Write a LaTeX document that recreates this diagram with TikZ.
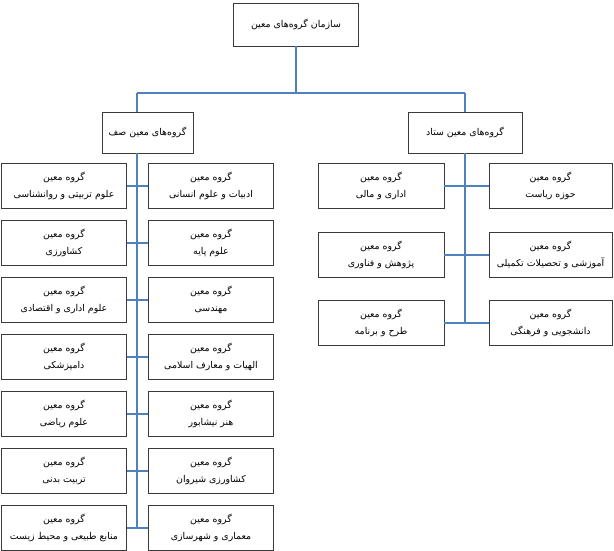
\documentclass[tikz,border=0pt]{standalone}
\usepackage{fontspec}
\newfontfamily\farsi[Script=Arabic]{DejaVu Sans}
\TeXXeTstate=1
\usetikzlibrary{positioning}
\definecolor{clink}{HTML}{4F81BD}
\definecolor{cbox}{HTML}{3A3A3A}
\newcommand{\fa}[1]{\beginR #1\endR}
\tikzset{
  every picture/.style={line width=0.8pt},
  unit/.style={draw=cbox, fill=white, align=center, inner sep=2pt,
    minimum width=#1, minimum height=45pt,
    font=\farsi\fontsize{9.4}{17}\selectfont},
  unit/.default=125pt,
  head/.style={unit=#1, minimum height=41pt},
  link/.style={draw=clink, line width=1.4pt},
}

\begin{document}
\begin{tikzpicture}[x=1pt, y=-1pt]
  \useasboundingbox (0,0) rectangle (614,551);
  % ---------------- top
  \node[unit, minimum height=43pt] (root) at (296,24.5) {\fa{سازمان گروه‌های معین}};
  \node[head=91pt] (saf) at (147.5,132.5) {\fa{گروه‌های معین صف}};
  \node[head=114pt] (setad) at (465,132.5) {\fa{گروه‌های معین ستاد}};
  \coordinate (barL) at (137,93);
  \coordinate (barR) at (465,93);
  % ---------------- saf: left column
  \node[unit] (safL1) at (64,186) {\fa{گروه معین}\\\fa{علوم تربیتی و روانشناسی}};
  \node[unit] (safL2) at (64,243) {\fa{گروه معین}\\\fa{کشاورزی}};
  \node[unit] (safL3) at (64,300) {\fa{گروه معین}\\\fa{علوم اداری و اقتصادی}};
  \node[unit] (safL4) at (64,357) {\fa{گروه معین}\\\fa{دامپزشکی}};
  \node[unit] (safL5) at (64,414) {\fa{گروه معین}\\\fa{علوم ریاضی}};
  \node[unit] (safL6) at (64,471) {\fa{گروه معین}\\\fa{تربیت بدنی}};
  \node[unit] (safL7) at (64,528) {\fa{گروه معین}\\\fa{منابع طبیعی و محیط زیست}};
  % ---------------- saf: right column
  \node[unit] (safR1) at (211,186) {\fa{گروه معین}\\\fa{ادبیات و علوم انسانی}};
  \node[unit] (safR2) at (211,243) {\fa{گروه معین}\\\fa{علوم پایه}};
  \node[unit] (safR3) at (211,300) {\fa{گروه معین}\\\fa{مهندسی}};
  \node[unit] (safR4) at (211,357) {\fa{گروه معین}\\\fa{الهیات و معارف اسلامی}};
  \node[unit] (safR5) at (211,414) {\fa{گروه معین}\\\fa{هنر نیشابور}};
  \node[unit] (safR6) at (211,471) {\fa{گروه معین}\\\fa{کشاورزی شیروان}};
  \node[unit] (safR7) at (211,528) {\fa{گروه معین}\\\fa{معماری و شهرسازی}};
  % ---------------- setad
  \node[unit=126pt] (setadL1) at (381,186) {\fa{گروه معین}\\\fa{اداری و مالی}};
  \node[unit=126pt] (setadL2) at (381,255) {\fa{گروه معین}\\\fa{پژوهش و فناوری}};
  \node[unit=126pt] (setadL3) at (381,323) {\fa{گروه معین}\\\fa{طرح و برنامه}};
  \node[unit=123pt] (setadR1) at (550.5,186) {\fa{گروه معین}\\\fa{حوزه ریاست}};
  \node[unit=123pt] (setadR2) at (550.5,255) {\fa{گروه معین}\\\fa{آموزشی و تحصیلات تکمیلی}};
  \node[unit=123pt] (setadR3) at (550.5,323) {\fa{گروه معین}\\\fa{دانشجویی و فرهنگی}};
  % ---------------- links
  \draw[link] (root.south) -- (root.south |- barL);
  \draw[link] (barL) -- (barR);
  \draw[link] (barL) -- (barL |- saf.north);
  \draw[link] (barR) -- (setad.north);
  \draw[link] (barL |- saf.south) -- (barL |- safL7);
  \draw[link] (safL1.east) -- (safR1.west);
  \draw[link] (safL2.east) -- (safR2.west);
  \draw[link] (safL3.east) -- (safR3.west);
  \draw[link] (safL4.east) -- (safR4.west);
  \draw[link] (safL5.east) -- (safR5.west);
  \draw[link] (safL6.east) -- (safR6.west);
  \draw[link] (safL7.east) -- (safR7.west);
  \draw[link] (setad.south) -- (setad.south |- setadL3);
  \draw[link] (setadL1.east) -- (setadR1.west);
  \draw[link] (setadL2.east) -- (setadR2.west);
  \draw[link] (setadL3.east) -- (setadR3.west);
\end{tikzpicture}
\end{document}
